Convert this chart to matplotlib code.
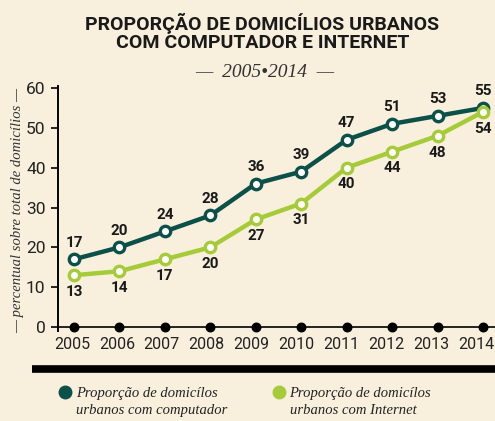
import matplotlib
matplotlib.use("Agg")
from matplotlib import pyplot as plt
from matplotlib.lines import Line2D
from matplotlib.transforms import ScaledTranslation

years = [2005, 2006, 2007, 2008, 2009, 2010, 2011, 2012, 2013, 2014]
computador = [17, 20, 24, 28, 36, 39, 47, 51, 53, 55]
internet = [13, 14, 17, 20, 27, 31, 40, 44, 48, 54]
y_ticks = [0, 10, 20, 30, 40, 50, 60]

BG = "#f8f0dc"
DARK = "#0b5049"
LIGHT = "#a5cb38"
SANS = ["Roboto", "DejaVu Sans"]
SERIF = ["Liberation Serif", "DejaVu Serif"]

fig = plt.figure(figsize=(4.95, 4.21), dpi=100, facecolor=BG)
ax = fig.add_axes([0.1172, 0.2138, 0.8828, 0.5819], facecolor=BG)

for values, color in [(computador, DARK), (internet, LIGHT)]:
    ax.plot(years, values, color=color, lw=3.2, marker="o", ms=7.5,
            mfc="white", mec=color, mew=2.4, zorder=3, clip_on=False)

for x, v in zip(years, computador):
    ax.annotate(str(v), (x, v), xytext=(0, 7), textcoords="offset points",
                ha="center", va="bottom", fontsize=11, fontweight="bold",
                family=SANS, color="#1a1a1a")
for x, v in zip(years, internet):
    ax.annotate(str(v), (x, v), xytext=(0, -7), textcoords="offset points",
                ha="center", va="top", fontsize=11, fontweight="bold",
                family=SANS, color="#1a1a1a")

ax.scatter(years, [0] * len(years), s=38, color="black", zorder=4, clip_on=False)

ax.set_xlim(2004.648, 2014.264)
ax.set_ylim(-1, 60.5)
ax.set_xticks(years)
ax.set_xticklabels([str(y) for y in years], family=SANS, fontsize=11.5, color="#222222")
ax.set_yticks(y_ticks)
ax.set_yticklabels([str(t) for t in y_ticks], family=SANS, fontsize=12.5, color="#222222")
ax.tick_params(axis="x", length=0, pad=4)
ax.tick_params(axis="y", length=5, width=1.2, direction="out", pad=4)
ax.axhline(0, color="black", lw=1.2, zorder=2, clip_on=False)
for side in ["top", "right", "bottom"]:
    ax.spines[side].set_visible(False)
ax.spines["left"].set_linewidth(1.4)

# year labels sit a little left of their points, more so towards the right edge
for i, lbl in enumerate(ax.get_xticklabels()):
    shift = -(2 + 5 * i / 9) / 100
    lbl.set_transform(lbl.get_transform() + ScaledTranslation(shift, 0, fig.dpi_scale_trans))

ax.set_ylabel("— percentual sobre total de domicílios —", family=SERIF, style="italic",
              fontsize=10.5, color="#333333")
ax.yaxis.set_label_coords(-0.078, 0.49)

fig.text(0.53, 0.922, "PROPORÇÃO DE DOMICÍLIOS URBANOS\nCOM COMPUTADOR E INTERNET",
         ha="center", va="center", family=SANS, fontweight="bold", fontsize=14,
         linespacing=1.0, color="#1a1a1a")
fig.text(0.535, 0.828, "—  2005•2014  —", ha="center", va="center", family=SERIF,
         style="italic", fontsize=14, color="#333333")

fig.add_artist(Line2D([32 / 495, 1.0], [0.124, 0.124], transform=fig.transFigure,
                      color="black", lw=5.5, solid_capstyle="butt"))

for x0, color, label in [(0.131, DARK, "Proporção de domicílos\nurbanos com computador"),
                         (0.563, LIGHT, "Proporção de domicílos\nurbanos com Internet")]:
    fig.add_artist(Line2D([x0], [0.069], transform=fig.transFigure, marker="o",
                          ms=9, color=color, lw=0))
    fig.text(x0 + 0.022, 0.045, label, ha="left", va="center", family=SERIF,
             style="italic", fontsize=10.5, linespacing=1.4, color="#222222")

fig.savefig("out.png", dpi=100, facecolor=BG)
